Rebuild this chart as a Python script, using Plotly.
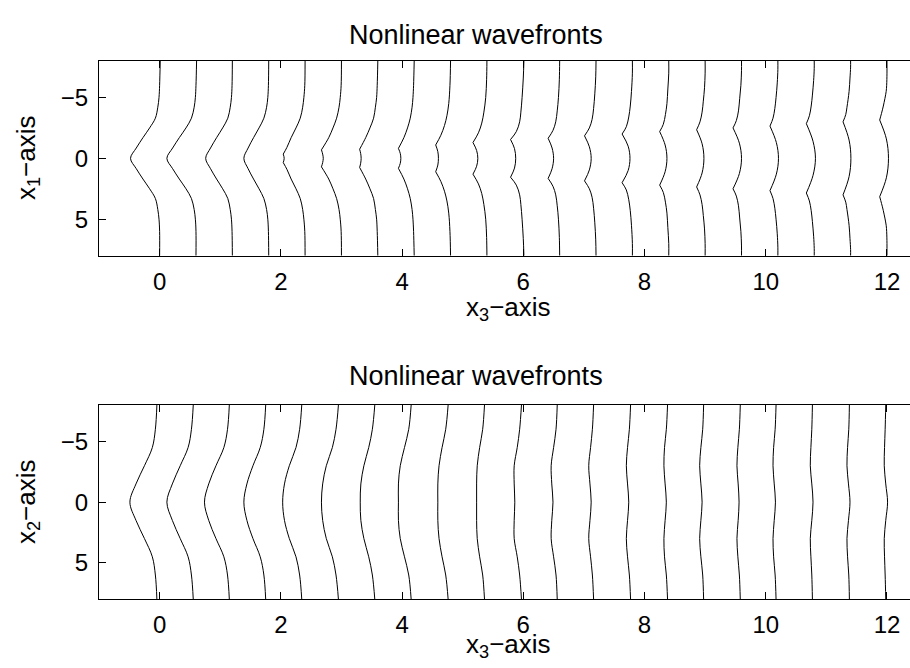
import plotly.graph_objects as go

# ---------------- data ----------------
offsets = [0.0, 0.6, 1.2, 1.8, 2.4, 3.0, 3.6, 4.2, 4.8, 5.4, 6.0,
           6.6, 7.2, 7.8, 8.4, 9.0, 9.6, 10.2, 10.8, 11.4, 12.0]
x_tick_vals = [0, 2, 4, 6, 8, 10, 12]
y_tick_vals = [-5, 0, 5]

# top panel: x1 samples and x3-shift of each wavefront (relative to its offset)
top_x1 = [
    [-8, -6, -5, -4.2, -3.3, -2.5, -1.7, -0.85, 0, 0.85, 1.7, 2.5, 3.3, 4.2, 5, 6, 8],
    [-8, -6, -5, -4.2, -3.3, -2.5, -1.7, -0.85, 0, 0.85, 1.7, 2.5, 3.3, 4.2, 5, 6, 8],
    [-8, -6, -5, -4.2, -3.3, -2.5, -1.7, -0.85, 0, 0.85, 1.7, 2.5, 3.3, 4.2, 5, 6, 8],
    [-8, -6, -5, -4.2, -3.3, -2.5, -1.7, -0.85, 0, 0.85, 1.7, 2.5, 3.3, 4.2, 5, 6, 8],
    [-8, -6, -5, -4.2, -3.3, -2.5, -1.7, -0.9, -0.35, 0, 0.35, 0.9, 1.7, 2.5, 3.3, 4.2, 5, 6, 8],
    [-8, -6, -5, -4.2, -3.3, -2.5, -1.7, -0.7, -0.35, 0, 0.35, 0.7, 1.7, 2.5, 3.3, 4.2, 5, 6, 8],
    [-8, -6, -5, -4.2, -3.3, -2.5, -1.7, -0.75, -0.4, 0, 0.4, 0.75, 1.7, 2.5, 3.3, 4.2, 5, 6, 8],
    [-8, -6, -5, -4.2, -3.3, -2.5, -1.7, -0.82, -0.41, 0, 0.41, 0.82, 1.7, 2.5, 3.3, 4.2, 5, 6, 8],
    [-8, -6, -4.5, -3.5, -2.7, -1.9, -1.1, -0.55, 0, 0.55, 1.1, 1.9, 2.7, 3.5, 4.5, 6, 8],
    [-8, -6.5, -5, -3.8, -2.9, -2.1, -1.3, -0.65, 0, 0.65, 1.3, 2.1, 2.9, 3.8, 5, 6.5, 8],
    [-8, -6.6, -5, -3.8, -3.0, -2.2, -1.55, -0.8, 0, 0.8, 1.55, 2.2, 3.0, 3.8, 5, 6.6, 8],
    [-8, -6.5, -5, -3.9, -3.0, -2.3, -1.65, -0.85, 0, 0.85, 1.65, 2.3, 3.0, 3.9, 5, 6.5, 8],
    [-8, -6.7, -5.3, -4.1, -3.2, -2.5, -1.85, -0.95, 0, 0.95, 1.85, 2.5, 3.2, 4.1, 5.3, 6.7, 8],
    [-8, -7, -5.5, -4.3, -3.4, -2.6, -2.0, -1.0, 0, 1.0, 2.0, 2.6, 3.4, 4.3, 5.5, 7, 8],
    [-8, -7, -5.7, -4.5, -3.6, -2.8, -2.2, -1.1, 0, 1.1, 2.2, 2.8, 3.6, 4.5, 5.7, 7, 8],
    [-8, -7, -5.8, -4.7, -3.8, -3.0, -2.35, -1.2, 0, 1.2, 2.35, 3.0, 3.8, 4.7, 5.8, 7, 8],
    [-8, -7.2, -6, -4.9, -3.9, -3.1, -2.5, -1.25, 0, 1.25, 2.5, 3.1, 3.9, 4.9, 6, 7.2, 8],
    [-8, -7.3, -6.2, -5.0, -4.1, -3.3, -2.65, -1.3, 0, 1.3, 2.65, 3.3, 4.1, 5.0, 6.2, 7.3, 8],
    [-8, -7.4, -6.4, -5.2, -4.3, -3.5, -2.85, -1.4, 0, 1.4, 2.85, 3.5, 4.3, 5.2, 6.4, 7.4, 8],
    [-8, -7.5, -6.6, -5.5, -4.2, -3.6, -3.0, -1.5, 0, 1.5, 3.0, 3.6, 4.2, 5.5, 6.6, 7.5, 8],
    [-8, -7, -6, -5.5, -4.3, -3.7, -3.15, -1.6, 0, 1.6, 3.15, 3.7, 4.3, 5.5, 6, 7, 8],
]
top_shift = [
    [0.01, 0, -0.01, -0.03, -0.07, -0.165, -0.275, -0.385, -0.48, -0.385, -0.275, -0.165, -0.07, -0.03, -0.01, 0, 0],
    [0.01, 0, -0.01, -0.03, -0.075, -0.165, -0.275, -0.385, -0.48, -0.385, -0.275, -0.165, -0.075, -0.03, -0.01, 0, 0],
    [0, -0.005, -0.015, -0.035, -0.075, -0.16, -0.26, -0.36, -0.44, -0.36, -0.26, -0.16, -0.075, -0.035, -0.015, -0.005, 0],
    [0, -0.005, -0.015, -0.035, -0.08, -0.16, -0.25, -0.34, -0.41, -0.34, -0.25, -0.16, -0.08, -0.035, -0.015, -0.005, 0],
    [0, -0.005, -0.02, -0.04, -0.08, -0.15, -0.23, -0.30, -0.36, -0.345, -0.36, -0.30, -0.23, -0.15, -0.08, -0.04, -0.02, -0.005, 0],
    [0, -0.005, -0.02, -0.04, -0.08, -0.14, -0.21, -0.33, -0.31, -0.30, -0.31, -0.33, -0.21, -0.14, -0.08, -0.04, -0.02, -0.005, 0],
    [0, -0.01, -0.02, -0.04, -0.07, -0.13, -0.20, -0.30, -0.283, -0.275, -0.283, -0.30, -0.20, -0.13, -0.07, -0.04, -0.02, -0.01, 0],
    [0, -0.01, -0.02, -0.035, -0.065, -0.11, -0.17, -0.26, -0.23, -0.22, -0.23, -0.26, -0.17, -0.11, -0.065, -0.035, -0.02, -0.01, 0],
    [0, -0.01, -0.03, -0.06, -0.10, -0.16, -0.245, -0.21, -0.20, -0.21, -0.245, -0.16, -0.10, -0.06, -0.03, -0.01, 0],
    [0, -0.005, -0.02, -0.05, -0.085, -0.14, -0.23, -0.17, -0.15, -0.17, -0.23, -0.14, -0.085, -0.05, -0.02, -0.005, 0],
    [0.01, 0, -0.02, -0.04, -0.06, -0.115, -0.21, -0.145, -0.125, -0.145, -0.21, -0.115, -0.06, -0.04, -0.02, 0, 0.01],
    [0, -0.005, -0.02, -0.04, -0.065, -0.11, -0.19, -0.125, -0.10, -0.125, -0.19, -0.11, -0.065, -0.04, -0.02, -0.005, 0],
    [0, -0.005, -0.02, -0.04, -0.065, -0.11, -0.19, -0.11, -0.08, -0.11, -0.19, -0.11, -0.065, -0.04, -0.02, -0.005, 0],
    [0, 0, -0.015, -0.035, -0.06, -0.10, -0.17, -0.07, -0.04, -0.07, -0.17, -0.10, -0.06, -0.035, -0.015, 0, 0],
    [0, 0, -0.015, -0.03, -0.055, -0.09, -0.15, -0.06, -0.03, -0.06, -0.15, -0.09, -0.055, -0.03, -0.015, 0, 0],
    [0, 0, -0.01, -0.03, -0.05, -0.085, -0.14, -0.05, -0.02, -0.05, -0.14, -0.085, -0.05, -0.03, -0.01, 0, 0],
    [0, 0, -0.01, -0.03, -0.05, -0.085, -0.14, -0.035, 0.0, -0.035, -0.14, -0.085, -0.05, -0.03, -0.01, 0, 0],
    [0, 0, -0.01, -0.03, -0.05, -0.08, -0.13, -0.025, 0.01, -0.025, -0.13, -0.08, -0.05, -0.03, -0.01, 0, 0],
    [0, 0, -0.01, -0.03, -0.05, -0.08, -0.13, -0.02, 0.02, -0.02, -0.13, -0.08, -0.05, -0.03, -0.01, 0, 0],
    [0, 0, -0.01, -0.025, -0.06, -0.08, -0.125, -0.025, 0.005, -0.025, -0.125, -0.08, -0.06, -0.025, -0.01, 0, 0],
    [0, 0, -0.005, -0.013, -0.06, -0.09, -0.12, -0.01, 0.025, -0.01, -0.12, -0.09, -0.06, -0.013, -0.005, 0, 0],
]
# x1 position of the corners on each top wavefront (0 = smooth tip)
top_kink = [0, 0, 0, 0, 0.35, 0.7, 0.75, 0.82, 1.1, 1.3, 1.55, 1.65, 1.85,
            2.0, 2.2, 2.35, 2.5, 2.65, 2.85, 3.0, 3.15]

# bottom panel: x2 samples and x3-shift of each wavefront
bottom_x2 = [-8, -6, -4.5, -3, -1.5, 0, 1.5, 3, 4.5, 6, 8]
bottom_shift = [
    [-0.045, -0.07, -0.12, -0.25, -0.39, -0.49, -0.39, -0.25, -0.12, -0.07, -0.045],
    [-0.045, -0.075, -0.13, -0.26, -0.39, -0.48, -0.39, -0.26, -0.13, -0.075, -0.045],
    [-0.05, -0.08, -0.14, -0.27, -0.39, -0.46, -0.39, -0.27, -0.14, -0.08, -0.05],
    [-0.05, -0.08, -0.14, -0.26, -0.36, -0.41, -0.36, -0.26, -0.14, -0.08, -0.05],
    [-0.055, -0.09, -0.15, -0.26, -0.34, -0.37, -0.34, -0.26, -0.15, -0.09, -0.055],
    [-0.05, -0.09, -0.15, -0.25, -0.31, -0.33, -0.31, -0.25, -0.15, -0.09, -0.05],
    [-0.05, -0.09, -0.15, -0.23, -0.28, -0.29, -0.28, -0.23, -0.15, -0.09, -0.05],
    [-0.05, -0.09, -0.16, -0.23, -0.26, -0.26, -0.26, -0.23, -0.16, -0.09, -0.05],
    [-0.04, -0.08, -0.14, -0.19, -0.21, -0.21, -0.21, -0.19, -0.14, -0.08, -0.04],
    [-0.04, -0.07, -0.12, -0.16, -0.17, -0.17, -0.17, -0.16, -0.12, -0.07, -0.04],
    [-0.03, -0.06, -0.10, -0.15, -0.15, -0.14, -0.15, -0.15, -0.10, -0.06, -0.03],
    [-0.04, -0.06, -0.10, -0.14, -0.13, -0.11, -0.13, -0.14, -0.10, -0.06, -0.04],
    [-0.04, -0.06, -0.09, -0.12, -0.10, -0.08, -0.10, -0.12, -0.09, -0.06, -0.04],
    [-0.03, -0.05, -0.08, -0.10, -0.08, -0.06, -0.08, -0.10, -0.08, -0.05, -0.03],
    [-0.02, -0.04, -0.07, -0.08, -0.06, -0.04, -0.06, -0.08, -0.07, -0.04, -0.02],
    [-0.025, -0.04, -0.07, -0.09, -0.07, -0.05, -0.07, -0.09, -0.07, -0.04, -0.025],
    [-0.02, -0.035, -0.06, -0.075, -0.055, -0.04, -0.055, -0.075, -0.06, -0.035, -0.02],
    [-0.03, -0.045, -0.07, -0.08, -0.06, -0.04, -0.06, -0.08, -0.07, -0.045, -0.03],
    [-0.03, -0.04, -0.055, -0.065, -0.04, -0.02, -0.04, -0.065, -0.055, -0.04, -0.03],
    [-0.02, -0.03, -0.05, -0.06, -0.035, -0.01, -0.035, -0.06, -0.05, -0.03, -0.02],
    [-0.02, -0.03, -0.04, -0.045, -0.02, 0.01, -0.02, -0.045, -0.04, -0.03, -0.02],
]

# ---------------- figure ----------------
W, H = 910, 668
FONT = "Liberation Sans, Arial, Helvetica, sans-serif"
FS_TICK = 24
FS_LABEL = 26
FS_TITLE = 27
line_style = dict(color="black", width=1, shape="spline", smoothing=1.0)

fig = go.Figure()


def split_segments(xs, ss, a):
    if a <= 0:
        return [(xs, ss)]
    cuts = [i for i, v in enumerate(xs) if abs(abs(v) - a) < 1e-9]
    segs, start = [], 0
    for c in cuts:
        segs.append((xs[start:c + 1], ss[start:c + 1]))
        start = c
    segs.append((xs[start:], ss[start:]))
    return segs


for off, xs, ss, a in zip(offsets, top_x1, top_shift, top_kink):
    for seg_x1, seg_s in split_segments(xs, ss, a):
        fig.add_trace(go.Scatter(x=[off + s for s in seg_s], y=seg_x1, mode="lines",
                                 line=line_style, xaxis="x", yaxis="y",
                                 showlegend=False, hoverinfo="skip"))

for off, ss in zip(offsets, bottom_shift):
    fig.add_trace(go.Scatter(x=[off + s for s in ss], y=bottom_x2, mode="lines",
                             line=line_style, xaxis="x2", yaxis="y2",
                             showlegend=False, hoverinfo="skip"))

x_dom = [99 / W, 1.0]
top_dom = [1 - 255.7 / H, 1 - 61 / H]
bot_dom = [1 - 599.3 / H, 1 - 405 / H]

xax = dict(range=[-1, 12.38], tickvals=x_tick_vals, ticks="inside", ticklen=7,
           tickwidth=1, tickcolor="black", showline=True, linecolor="black",
           linewidth=1.3, mirror="ticks", showgrid=False, zeroline=False,
           tickfont=dict(family=FONT, size=FS_TICK, color="black"), ticklabelstandoff=4,
           domain=x_dom, fixedrange=True)
yax = dict(range=[8, -8], tickvals=y_tick_vals, ticks="inside", ticklen=7,
           tickwidth=1, tickcolor="black", showline=True, linecolor="black",
           linewidth=1.3, mirror=False, showgrid=False, zeroline=False,
           tickfont=dict(family=FONT, size=FS_TICK, color="black"), ticklabelstandoff=5,
           fixedrange=True)

fig.update_layout(
    width=W, height=H, margin=dict(l=0, r=0, t=0, b=0),
    paper_bgcolor="white", plot_bgcolor="white",
    xaxis=dict(xax, anchor="y"),
    yaxis=dict(yax, domain=top_dom, anchor="x"),
    xaxis2=dict(xax, anchor="y2"),
    yaxis2=dict(yax, domain=bot_dom, anchor="x2"),
    showlegend=False,
)


def ann(text, px, py, size, angle=0):
    fig.add_annotation(text=text, x=px / W, y=1 - py / H, xref="paper", yref="paper",
                       showarrow=False, textangle=angle, xanchor="center", yanchor="middle",
                       font=dict(family=FONT, size=size, color="black"))


ann("Nonlinear wavefronts", 476, 35, FS_TITLE)
ann("Nonlinear wavefronts", 476, 376, FS_TITLE)
ann("x<sub>3</sub>−axis", 508, 308, FS_LABEL)
ann("x<sub>3</sub>−axis", 508, 645, FS_LABEL)
ann("x<sub>1</sub>−axis", 27, 158, FS_LABEL, -90)
ann("x<sub>2</sub>−axis", 27, 502, FS_LABEL, -90)

fig.write_html("out.html")
